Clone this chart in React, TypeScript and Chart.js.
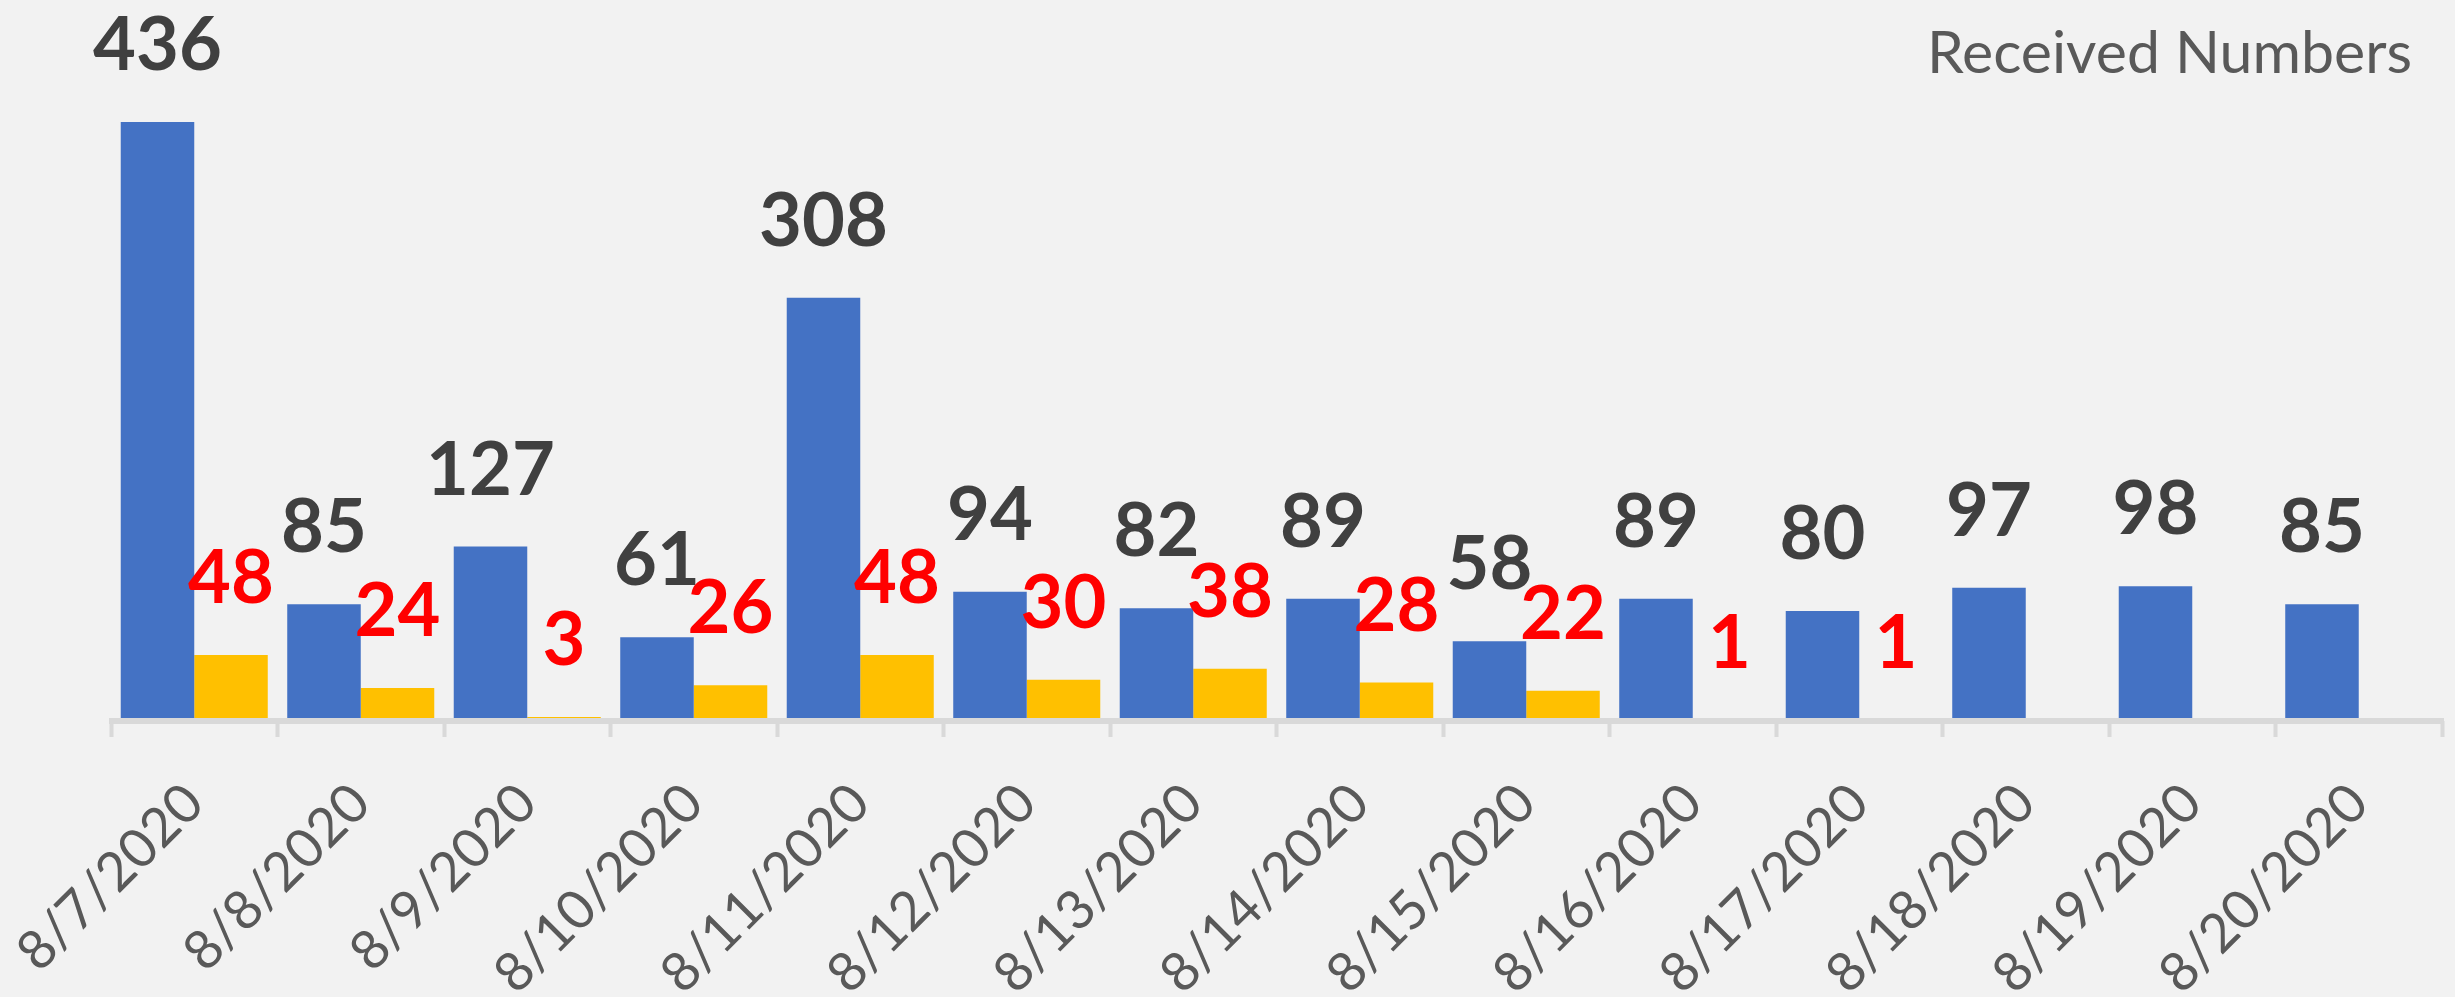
import React, { useEffect, useRef } from 'react';
import { Chart, registerables } from 'chart.js';

Chart.register(...registerables);

const dates = [
  '8/7/2020', '8/8/2020', '8/9/2020', '8/10/2020', '8/11/2020', '8/12/2020', '8/13/2020',
  '8/14/2020', '8/15/2020', '8/16/2020', '8/17/2020', '8/18/2020', '8/19/2020', '8/20/2020',
];
const receivedNumbers = [436, 85, 127, 61, 308, 94, 82, 89, 58, 89, 80, 97, 98, 85];
const secondNumbers = [48, 24, 3, 26, 48, 30, 38, 28, 22, 1, 1, null, null, null];
const legendText = 'Received Numbers';

const BG = '#F2F2F2';
const BLUE = '#4472C4';
const YELLOW = '#FFC000';
const AXIS = '#D9D9D9';
const TEXT_GRAY = '#595959';
const LABEL_COLORS = ['#404040', '#FF0000'];

const bgPlugin = {
  id: 'bgFill',
  beforeDraw(chart: any) {
    const { ctx, width, height } = chart;
    ctx.save();
    ctx.fillStyle = BG;
    ctx.fillRect(0, 0, width, height);
    ctx.restore();
  },
};

// axis baseline drawn over the bar bases, like the spreadsheet's category axis
const axisLinePlugin = {
  id: 'axisLine',
  afterDatasetsDraw(chart: any) {
    const { ctx, chartArea } = chart;
    ctx.save();
    ctx.fillStyle = AXIS;
    ctx.fillRect(chartArea.left - 2, chartArea.bottom - 3, chartArea.right - chartArea.left + 4, 6);
    ctx.restore();
  },
};

const valueLabelPlugin = {
  id: 'valueLabels',
  afterDatasetsDraw(chart: any) {
    const { ctx } = chart;
    ctx.save();
    ctx.font = 'bold 74px Lato';
    ctx.textAlign = 'center';
    ctx.textBaseline = 'alphabetic';
    chart.data.datasets.forEach((ds: any, i: number) => {
      const meta = chart.getDatasetMeta(i);
      meta.data.forEach((el: any, j: number) => {
        const v = ds.data[j];
        if (v === null || v === undefined) return;
        ctx.fillStyle = LABEL_COLORS[i];
        ctx.fillText(String(v), el.x, el.y - 52);
      });
    });
    ctx.restore();
  },
};

const cornerTextPlugin = {
  id: 'cornerText',
  afterDraw(chart: any) {
    const { ctx, chartArea } = chart;
    ctx.save();
    ctx.font = '59px Lato';
    ctx.fillStyle = TEXT_GRAY;
    ctx.textAlign = 'right';
    ctx.textBaseline = 'alphabetic';
    ctx.fillText(legendText, chartArea.right - 30, chartArea.top + 39);
    ctx.restore();
  },
};

export default function App() {
  const ref = useRef<HTMLCanvasElement | null>(null);

  useEffect(() => {
    document.body.style.margin = '0';
    document.body.style.background = BG;
    const canvas = ref.current;
    if (!canvas) return;
    const chart = new Chart(canvas, {
      type: 'bar',
      data: {
        labels: dates,
        datasets: [
          {
            label: legendText,
            data: receivedNumbers,
            backgroundColor: BLUE,
            borderWidth: 0,
            categoryPercentage: 0.883,
            barPercentage: 1,
          },
          {
            label: 'Second',
            data: secondNumbers as any,
            backgroundColor: YELLOW,
            borderWidth: 0,
            categoryPercentage: 0.883,
            barPercentage: 1,
          },
        ],
      },
      options: {
        responsive: false,
        animation: false,
        layout: { padding: { left: 111, right: 13, top: 34, bottom: 0 } },
        plugins: {
          legend: { display: false },
          title: { display: false },
          tooltip: { enabled: false },
        },
        scales: {
          x: {
            offset: true,
            border: { display: false },
            grid: {
              display: true,
              offset: true,
              drawOnChartArea: false,
              drawTicks: true,
              tickLength: 16,
              tickWidth: 4,
              tickColor: AXIS,
            },
            ticks: {
              autoSkip: false,
              minRotation: 45,
              maxRotation: 45,
              padding: 34,
              color: TEXT_GRAY,
              font: { family: 'Lato', size: 54 },
            },
            afterFit(scale: any) {
              scale.paddingLeft = 0;
              scale.paddingRight = 0;
              scale.height = 276;
            },
          },
          y: {
            display: false,
            min: 0,
            max: 500,
          },
        },
      },
      plugins: [bgPlugin, axisLinePlugin, valueLabelPlugin, cornerTextPlugin],
    });
    return () => chart.destroy();
  }, []);

  return (
    <canvas
      ref={ref}
      width={2455}
      height={997}
      style={{ display: 'block', width: '2455px', height: '997px' }}
    />
  );
}
